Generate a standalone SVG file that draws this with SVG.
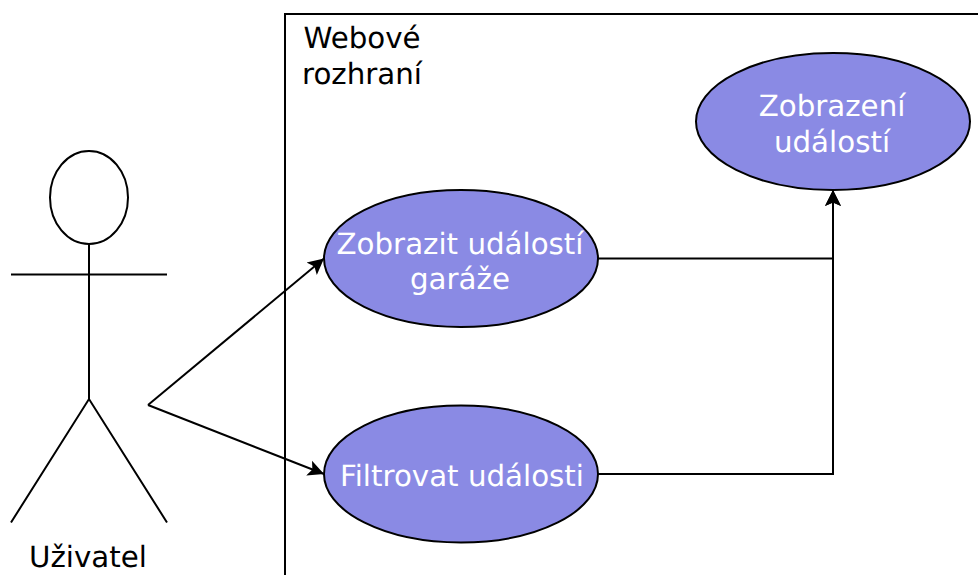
<svg xmlns="http://www.w3.org/2000/svg" width="978" height="575" viewBox="0 0 978 575">
<defs>
<marker id="arr" markerUnits="userSpaceOnUse" markerWidth="18" markerHeight="18" refX="16" refY="9" orient="auto"><path d="M0 1L16 9L0 17L3.500 9Z" fill="#000"/></marker>
</defs>
<style>
text{font-family:"DejaVu Sans",Verdana,sans-serif;font-size:29.300px;text-anchor:middle;text-rendering:geometricPrecision}
.uc{fill:#8a8ae4;stroke:#000;stroke-width:2}
.w{fill:#fff}
.l{fill:none;stroke:#000;stroke-width:2}
</style>
<rect width="978" height="575" fill="#fff"/>
<g id="system"><path class="l" d="M285 575V14H978"/><text x="362" y="48">Webové</text><text x="362" y="84">rozhraní</text></g>
<g id="actor"><ellipse class="l" cx="89" cy="197.500" rx="39" ry="46.500"/><path class="l" d="M89 244V399M11 274.500H167M11 522.500L89 399L167 522.500"/><text x="88" y="567">Uživatel</text></g>
<g id="connectors">
<path class="l" d="M148 405L324 258.500" marker-end="url(#arr)"/>
<path class="l" d="M148 405L324 474" marker-end="url(#arr)"/>
<path class="l" d="M598 258.500H833V190" marker-end="url(#arr)"/>
<path class="l" d="M598 474H833V190" marker-end="url(#arr)"/>
</g>
<g id="zobrazeni"><ellipse class="uc" cx="833" cy="121.500" rx="137" ry="68.500"/><text class="w" x="832" y="116">Zobrazení</text><text class="w" x="832" y="152">událostí</text></g>
<g id="zobrazit"><ellipse class="uc" cx="461" cy="258.500" rx="137" ry="68.500"/><text class="w" x="460" y="254">Zobrazit událostí</text><text class="w" x="460" y="289">garáže</text></g>
<g id="filtrovat"><ellipse class="uc" cx="461" cy="474" rx="137" ry="68.500"/><text class="w" x="462" y="486">Filtrovat události</text></g>
</svg>
